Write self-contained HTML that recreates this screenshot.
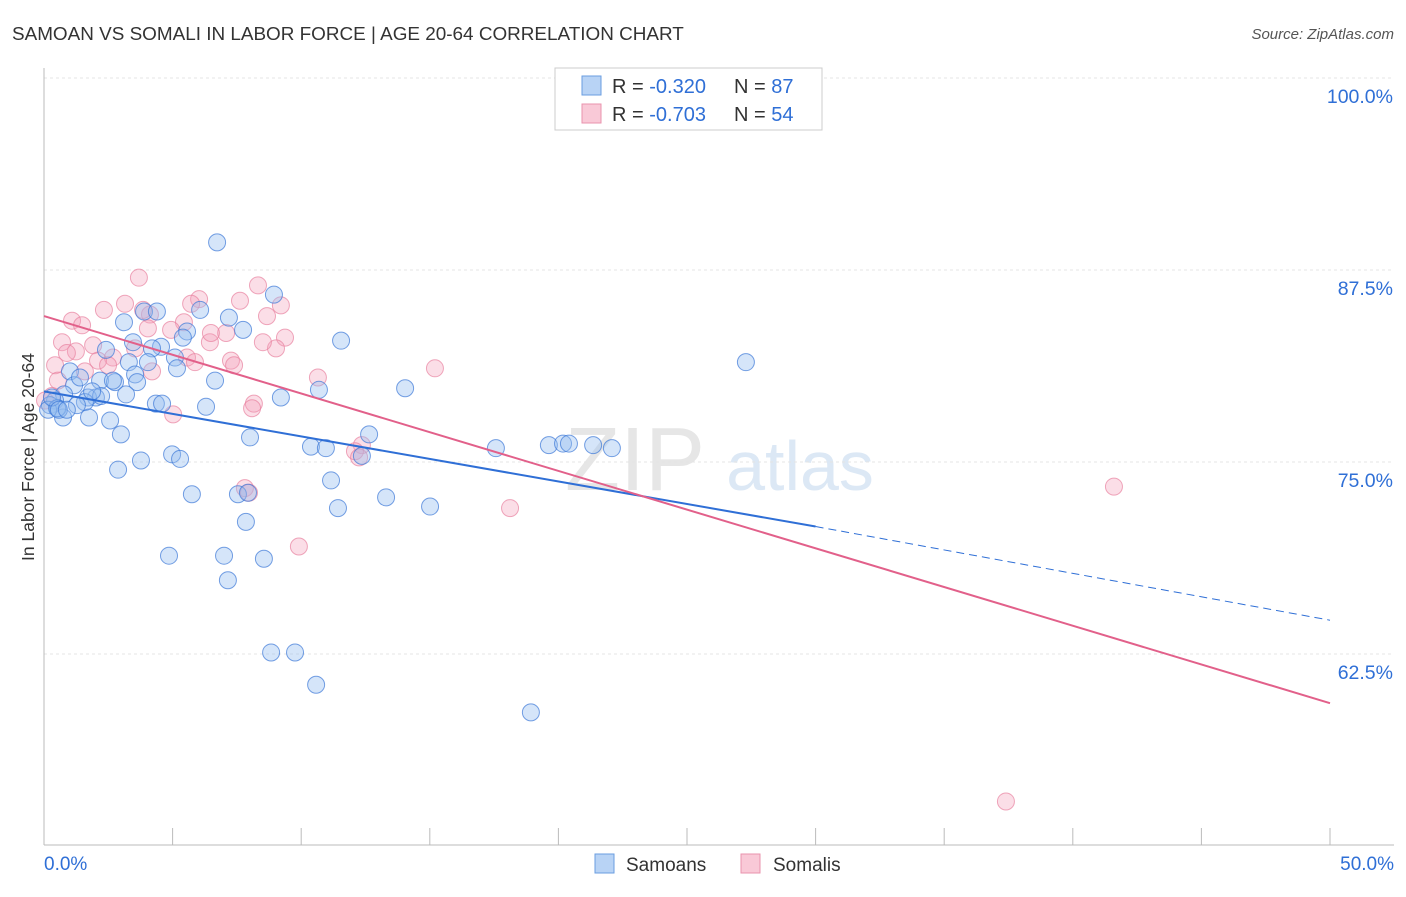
<!DOCTYPE html>
<html><head><meta charset="utf-8"><style>
body{margin:0;background:#fff;font-family:"Liberation Sans",sans-serif;}
svg text{font-family:"Liberation Sans",sans-serif;}
</style></head><body>
<svg id="c" width="1406" height="892">
<text x="12" y="40" font-size="18.9" fill="#333">SAMOAN VS SOMALI IN LABOR FORCE | AGE 20-64 CORRELATION CHART</text>
<text x="1394" y="39" font-size="15" fill="#555" font-style="italic" text-anchor="end">Source: ZipAtlas.com</text>
<text transform="translate(34,457) rotate(-90)" font-size="17.5" fill="#333" text-anchor="middle">In Labor Force | Age 20-64</text>
<text x="635" y="490" font-size="90" fill="#e6e6e6" font-family="Liberation Serif" text-anchor="middle">ZIP</text>
<text x="800" y="490" font-size="70" fill="#dce8f5" text-anchor="middle">atlas</text>
<g id="grid"></g><g id="pts"></g><g id="lines"></g>
<g>
<rect x="555" y="68" width="267" height="62" fill="#fff" stroke="#ccc"/>
<rect x="582" y="76" width="19" height="19" fill="#b8d3f5" stroke="#6a9ee0"/>
<rect x="582" y="104" width="19" height="19" fill="#f9c9d7" stroke="#e993ad"/>
<text x="612" y="93" font-size="20" fill="#333">R = <tspan fill="#2f6fd6">-0.320</tspan></text>
<text x="734" y="93" font-size="20" fill="#333">N = <tspan fill="#2f6fd6">87</tspan></text>
<text x="612" y="121" font-size="20" fill="#333">R = <tspan fill="#2f6fd6">-0.703</tspan></text>
<text x="734" y="121" font-size="20" fill="#333">N = <tspan fill="#2f6fd6">54</tspan></text>
</g>
<g>
<rect x="595" y="854" width="19" height="19" fill="#b8d3f5" stroke="#6a9ee0"/>
<text x="626" y="871" font-size="19" fill="#333">Samoans</text>
<rect x="741" y="854" width="19" height="19" fill="#f9c9d7" stroke="#e993ad"/>
<text x="773" y="871" font-size="19" fill="#333">Somalis</text>
</g>
</svg>
<script>
const xTicks=[0,5,10,15,20,25,30,35,40,45,50];
const yTicks=[62.5,75,87.5,100];
const yTickLabels=["62.5%","75.0%","87.5%","100.0%"];
const xEndLabels=["0.0%","50.0%"];
const samoanX=[6.73,8.94,3.89,4.39,6.07,7.19,7.74,5.56,3.11,11.55,27.29,3.46,4.55,2.41,4.20,5.09,5.17,3.30,4.04,3.54,3.62,1.01,2.18,2.76,1.17,6.65,1.40,14.04,10.69,9.21,6.30,4.35,4.59,3.19,2.02,1.71,2.22,1.59,0.78,0.43,0.23,0.54,0.16,1.28,0.74,1.75,2.57,2.99,8.01,12.64,10.38,10.96,17.57,19.63,20.18,20.41,21.35,22.08,12.36,4.98,5.29,3.77,2.88,11.16,5.75,7.54,7.93,13.30,15.01,11.43,7.85,4.86,7.00,8.55,7.15,8.83,9.76,10.58,18.93,0.51,0.31,1.87,2.68,5.40,0.58,0.89];
const samoanY=[89.3,85.9,84.8,84.8,84.9,84.4,83.6,83.5,84.1,82.9,81.5,82.8,82.5,82.3,82.4,81.8,81.1,81.5,81.5,80.7,80.2,80.9,80.3,80.2,80.0,80.3,80.5,79.8,79.7,79.2,78.6,78.8,78.8,79.4,79.2,79.2,79.3,78.9,79.4,79.0,78.7,78.5,78.4,78.7,77.9,77.9,77.7,76.8,76.6,76.8,76.0,75.9,75.9,76.1,76.2,76.2,76.1,75.9,75.4,75.5,75.2,75.1,74.5,73.8,72.9,72.9,73.0,72.7,72.1,72.0,71.1,68.9,68.9,68.7,67.3,62.6,62.6,60.5,58.7,78.5,79.2,79.6,80.3,83.1,78.4,78.4];
const somaliX=[3.69,8.32,6.03,3.15,2.33,5.72,7.62,9.21,4.12,1.09,1.48,5.44,4.94,8.67,4.04,7.08,6.45,9.37,0.70,1.91,1.24,0.89,9.02,2.68,2.10,5.56,7.27,7.39,2.49,4.20,0.43,1.59,0.54,15.20,10.65,8.16,8.09,5.02,12.36,12.09,12.25,7.81,7.97,9.91,18.12,41.60,37.40,0.31,3.54,3.85,6.49,5.87,0.04,8.51];
const somaliY=[87.0,86.5,85.6,85.3,84.9,85.3,85.5,85.2,84.6,84.2,83.9,84.1,83.6,84.5,83.7,83.4,82.8,83.1,82.8,82.6,82.2,82.1,82.4,81.8,81.6,81.8,81.6,81.3,81.3,80.9,81.3,80.9,80.3,81.1,80.5,78.8,78.5,78.1,76.1,75.7,75.3,73.3,73.0,69.5,72.0,73.4,52.9,79.3,82.4,84.9,83.4,81.5,79.0,82.8];
const samoanTrend=[[0,79.6],[30,70.8]];
const samoanTrendDash=[[30,70.8],[50,64.7]];
const somaliTrend=[[0,84.5],[50,59.3]];

const NS="http://www.w3.org/2000/svg";
const X=v=>44+v/50*1286, Y=v=>78+(100-v)*15.36;
function mk(t,p,a){const e=document.createElementNS(NS,t);for(const k in a)e.setAttribute(k,a[k]);p.appendChild(e);return e;}
const svg=document.getElementById('c'),grid=document.getElementById('grid'),pts=document.getElementById('pts'),lines=document.getElementById('lines');
yTicks.forEach((v,i)=>{
 const g=mk('line',grid,{x1:44,x2:1394,y1:Y(v),y2:Y(v),stroke:'#e4e4e4','stroke-dasharray':'3,3'});
 
 
 const t=mk('text',svg,{x:1393,y:Y(v)+25,'font-size':19.5,fill:'#2f6fd6','text-anchor':'end'});t.textContent=yTickLabels[i];
 
 
});
const ax=mk('line',grid,{x1:44,x2:1394,y1:845,y2:845,stroke:'#bbb'});


const ay=mk('line',grid,{x1:44,x2:44,y1:68,y2:845,stroke:'#bbb'});


xTicks.forEach(v=>{const t=mk('line',grid,{x1:X(v),x2:X(v),y1:828,y2:845,stroke:'#bbb'});
 
 });
[[0,'start',44],[50,'end',1394]].forEach((a,i)=>{const t=mk('text',svg,{x:a[2],y:870,'font-size':19,fill:'#2f6fd6','text-anchor':a[1]});t.textContent=xEndLabels[i];
 
 });
somaliX.forEach((v,i)=>{const c=mk('circle',pts,{cx:X(v),cy:Y(somaliY[i]),r:8.5,fill:'rgba(244,160,185,0.35)',stroke:'rgba(232,130,160,0.7)'});
 
 });
samoanX.forEach((v,i)=>{const c=mk('circle',pts,{cx:X(v),cy:Y(samoanY[i]),r:8.5,fill:'rgba(150,190,240,0.4)',stroke:'rgba(60,120,215,0.7)'});
 
 });
const l1=mk('line',lines,{x1:X(samoanTrend[0][0]),y1:Y(samoanTrend[0][1]),x2:X(samoanTrend[1][0]),y2:Y(samoanTrend[1][1]),stroke:'#2f6fd6','stroke-width':2});


const l2=mk('line',lines,{x1:X(samoanTrendDash[0][0]),y1:Y(samoanTrendDash[0][1]),x2:X(samoanTrendDash[1][0]),y2:Y(samoanTrendDash[1][1]),stroke:'#2f6fd6','stroke-width':1,'stroke-dasharray':'8,5'});


const l3=mk('line',lines,{x1:X(somaliTrend[0][0]),y1:Y(somaliTrend[0][1]),x2:X(somaliTrend[1][0]),y2:Y(somaliTrend[1][1]),stroke:'#e2608a','stroke-width':2});


</script>
</body></html>
